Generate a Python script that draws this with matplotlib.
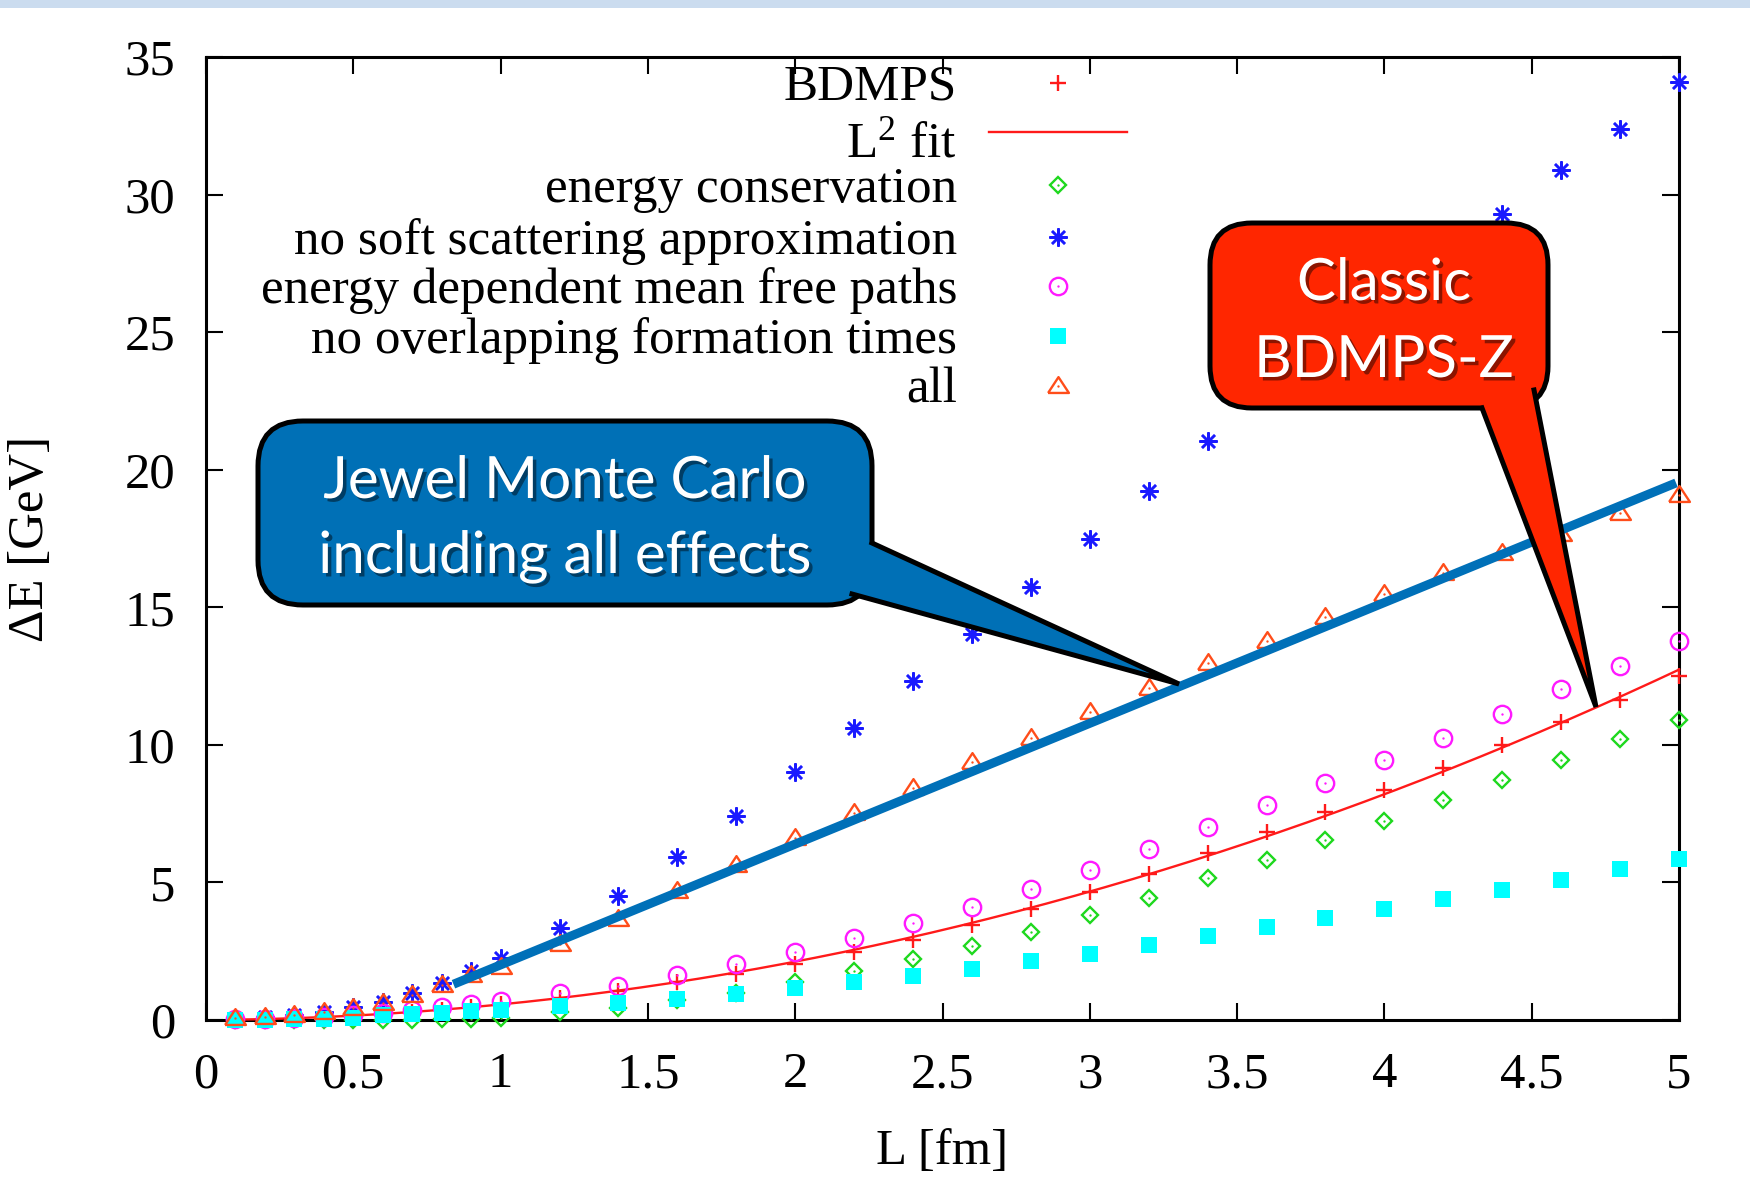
import numpy as np
import matplotlib
matplotlib.use("Agg")
import matplotlib.pyplot as plt
from matplotlib.patches import FancyBboxPatch, Polygon, Rectangle
from matplotlib.lines import Line2D
import matplotlib.patheffects as pe

# ---------------------------------------------------------------- data
L = [0.1, 0.2, 0.3, 0.4, 0.5, 0.6, 0.7, 0.8, 0.9, 1.0,
     1.2, 1.4, 1.6, 1.8, 2.0, 2.2, 2.4, 2.6, 2.8, 3.0,
     3.2, 3.4, 3.6, 3.8, 4.0, 4.2, 4.4, 4.6, 4.8, 5.0]

bdmps = [0.02, 0.04, 0.07, 0.11, 0.16, 0.22, 0.29, 0.37, 0.47, 0.57,
         0.80, 1.05, 1.37, 1.68, 2.02, 2.46, 2.91, 3.46, 4.04, 4.64,
         5.30, 6.08, 6.82, 7.55, 8.35, 9.15, 9.98, 10.82, 11.62, 12.50]

energy_conservation = [0.0, 0.0, 0.0, 0.0, 0.0, 0.0, 0.01, 0.02, 0.04, 0.08,
                       0.28, 0.45, 0.72, 0.97, 1.39, 1.78, 2.20, 2.69, 3.21, 3.80,
                       4.45, 5.15, 5.80, 6.53, 7.23, 7.98, 8.74, 9.46, 10.20, 10.90]

no_soft_scattering = [0.05, 0.10, 0.17, 0.30, 0.48, 0.67, 0.97, 1.36, 1.79, 2.24,
                      3.33, 4.52, 5.93, 7.43, 9.03, 10.60, 12.33, 14.03, 15.74, 17.50,
                      19.22, 21.05, 22.80, 24.50, 26.20, 27.80, 29.30, 30.90, 32.40, 34.10]

energy_dep_mfp = [0.02, 0.04, 0.07, 0.12, 0.18, 0.26, 0.38, 0.48, 0.58, 0.68,
                  0.99, 1.25, 1.64, 2.02, 2.46, 2.97, 3.54, 4.12, 4.76, 5.45,
                  6.20, 7.02, 7.83, 8.62, 9.45, 10.25, 11.12, 12.02, 12.86, 13.78]

no_overlap_formation = [0.0, 0.0, 0.02, 0.05, 0.08, 0.17, 0.23, 0.27, 0.32, 0.37,
                        0.50, 0.62, 0.77, 0.95, 1.15, 1.39, 1.60, 1.85, 2.13, 2.40,
                        2.72, 3.07, 3.37, 3.70, 4.03, 4.40, 4.73, 5.10, 5.48, 5.86]

all_effects = [0.07, 0.12, 0.18, 0.30, 0.42, 0.60, 0.90, 1.27, 1.64, 1.94,
               2.75, 3.66, 4.68, 5.65, 6.60, 7.52, 8.43, 9.37, 10.25, 11.18,
               12.07, 12.97, 13.78, 14.65, 15.48, 16.26, 16.96, 17.65, 18.44, 19.08]

# straight guide drawn through the "all" points
jewel_L = [0.84, 4.99]
jewel_E = [1.30, 19.52]

x_ticks = [0, 0.5, 1, 1.5, 2, 2.5, 3, 3.5, 4, 4.5, 5]
y_ticks = [0, 5, 10, 15, 20, 25, 30, 35]

labels = ["BDMPS", "L$^2$ fit", "energy conservation",
          "no soft scattering approximation",
          "energy dependent mean free paths",
          "no overlapping formation times", "all"]

# ---------------------------------------------------------------- styling
plt.rcParams['font.family'] = ['Liberation Serif', 'DejaVu Serif']
plt.rcParams['mathtext.fontset'] = 'custom'
plt.rcParams['mathtext.rm'] = 'Liberation Serif'
plt.rcParams['mathtext.it'] = 'Liberation Serif:italic'

W, H = 1750, 1204
fig = plt.figure(figsize=(W / 100, H / 100), dpi=100)
AX_L, AX_R, AX_T, AX_B = 206, 1679, 57, 1020
ax = fig.add_axes([AX_L / W, 1 - AX_B / H, (AX_R - AX_L) / W, (AX_B - AX_T) / H])

tri = [(-1.0, -0.62), (1.0, -0.62), (0.0, 0.9), (-1.0, -0.62)]

C_RED = '#ff1a1a'
C_GREEN = '#1ed81e'
C_BLUE = '#1a1aff'
C_MAG = '#ff1aff'
C_CYAN = '#00ffff'
C_ORANGE = '#ff4d1a'

styles = [
    dict(marker='+', ms=11.5, mew=1.7, color=C_RED, mfc='none'),
    None,
    dict(marker='D', ms=8.6, mew=1.7, color=C_GREEN, mfc='none'),
    dict(marker=(8, 2, 0), ms=13, mew=1.8, color=C_BLUE),
    dict(marker='o', ms=12.5, mew=1.7, color=C_MAG, mfc='none'),
    dict(marker='s', ms=11, mew=0, color=C_CYAN),
    dict(marker=tri, ms=15, mew=1.7, color=C_ORANGE, mfc='none'),
]
series = [bdmps, None, energy_conservation, no_soft_scattering,
          energy_dep_mfp, no_overlap_formation, all_effects]
dotted = {2, 4, 6}

# quadratic fit (a L^2 + b L) to the BDMPS points
Larr = np.asarray(L)
A = np.column_stack([Larr ** 2, Larr])
coef, *_ = np.linalg.lstsq(A, np.asarray(bdmps), rcond=None)
Lfit = np.linspace(Larr.min(), Larr.max(), 300)
Efit = coef[0] * Lfit ** 2 + coef[1] * Lfit

z = 3
for i, (vals, st) in enumerate(zip(series, styles)):
    if i == 1:
        ax.plot(Lfit, Efit, color=C_RED, lw=1.7, zorder=z, clip_on=False)
    else:
        ax.plot(L, vals, ls='none', zorder=z, clip_on=False, **st)
        if i in dotted:
            ax.plot(L, vals, ls='none', marker='o', ms=1.7, mew=0,
                    color=st['color'], zorder=z, clip_on=False)
    z += 0.1

ax.plot(jewel_L, jewel_E, color='#0070b8', lw=6.5, solid_capstyle='butt',
        zorder=6, clip_on=False)

ax.set_xlim(0, 5)
ax.set_ylim(0, 35)
ax.set_xticks(x_ticks)
ax.set_xticklabels(['{:g}'.format(t) for t in x_ticks])
ax.set_yticks(y_ticks)
ax.set_yticklabels(['{:g}'.format(t) for t in y_ticks])
ax.tick_params(direction='in', length=12, width=1.5, top=True, right=True,
               labelsize=36.5, colors='black')
ax.tick_params(axis='x', pad=23)
ax.tick_params(axis='y', pad=22)
for s in ax.spines.values():
    s.set_linewidth(2.2)

ax.set_xlabel('L [fm]', fontsize=36.5)
ax.set_ylabel('ΔE [GeV]', fontsize=36.5)
ax.xaxis.set_label_coords(0.5, -(1152 - AX_B) / (AX_B - AX_T))
ax.xaxis.label.set_va('center')
ax.yaxis.set_label_coords((31 - AX_L) / (AX_R - AX_L), 0.5)
ax.yaxis.label.set_va('center')


# key, gnuplot style: right-aligned text followed by the sample
def afrac(px, py):
    return ((px - AX_L) / (AX_R - AX_L), (AX_B - py) / (AX_B - AX_T))


row_py = [82.7, 131.7, 185, 236.7, 285.5, 335.5, 385.5]
base_off = [17, 25, 17, 17, 17, 17, 17]
for i, lab in enumerate(labels):
    tx, ty = afrac(957, row_py[i] + base_off[i])
    ax.text(tx, ty, lab, transform=ax.transAxes, ha='right', va='baseline',
            fontsize=36.8, zorder=7)
    if i == 1:
        x0, yy = afrac(989, row_py[i])
        x1, _ = afrac(1127, row_py[i])
        ax.plot([x0, x1], [yy, yy], transform=ax.transAxes, color=C_RED,
                lw=1.7, clip_on=False, zorder=7)
    else:
        mx, my = afrac(1058, row_py[i])
        ax.plot([mx], [my], transform=ax.transAxes, ls='none', clip_on=False,
                zorder=7, **styles[i])
        if i in dotted:
            ax.plot([mx], [my], transform=ax.transAxes, ls='none', marker='o',
                    ms=1.7, mew=0, color=styles[i]['color'], clip_on=False,
                    zorder=7)

# ---------------------------------------------------------------- overlay in pixel units
ov = fig.add_axes([0, 0, 1, 1], zorder=10)
ov.set_xlim(0, W)
ov.set_ylim(H, 0)
ov.axis('off')
ov.patch.set_alpha(0)

ov.add_patch(Rectangle((0, 0), W, 8, fc='#cbdcef', ec='none'))


def callout(x0, y0, x1, y1, radius, base_a, base_b, inner_a, inner_b, tip, face):
    ov.add_patch(FancyBboxPatch((x0, y0), x1 - x0, y1 - y0,
                                boxstyle=f"round,pad=0,rounding_size={radius}",
                                fc=face, ec='black', lw=3.6, zorder=1))
    ov.add_patch(Polygon([inner_a, base_a, tip, base_b, inner_b], closed=True,
                         fc=face, ec='none', zorder=2))
    ov.add_line(Line2D([base_a[0], tip[0], base_b[0]],
                       [base_a[1], tip[1], base_b[1]], color='black', lw=3.6,
                       solid_joinstyle='miter', zorder=3))


shadow = [pe.SimplePatchShadow(offset=(2.5, -2.5), shadow_rgbFace='black', alpha=0.45),
          pe.Normal()]
callout_font = ['Lato', 'DejaVu Sans']
CF = 42

callout(258, 421, 872, 605, 45, (872, 543), (852, 594), (855, 543), (840, 585),
        (1179, 684), '#0070b6')
ov.text(565, 498, 'Jewel Monte Carlo', ha='center', va='baseline', fontsize=CF,
        color='white', family=callout_font, path_effects=shadow, zorder=5)
ov.text(565, 573, 'including all effects', ha='center', va='baseline', fontsize=CF,
        color='white', family=callout_font, path_effects=shadow, zorder=5)

callout(1210, 223, 1548, 408, 42, (1482, 408), (1534, 390), (1482, 392), (1520, 378),
        (1596, 707), '#ff2600')
ov.text(1384, 300, 'Classic', ha='center', va='baseline', fontsize=CF,
        color='white', family=callout_font, path_effects=shadow, zorder=5)
ov.text(1384, 377, 'BDMPS-Z', ha='center', va='baseline', fontsize=CF,
        color='white', family=callout_font, path_effects=shadow, zorder=5)

fig.savefig('out.png', dpi=100, facecolor='white')
